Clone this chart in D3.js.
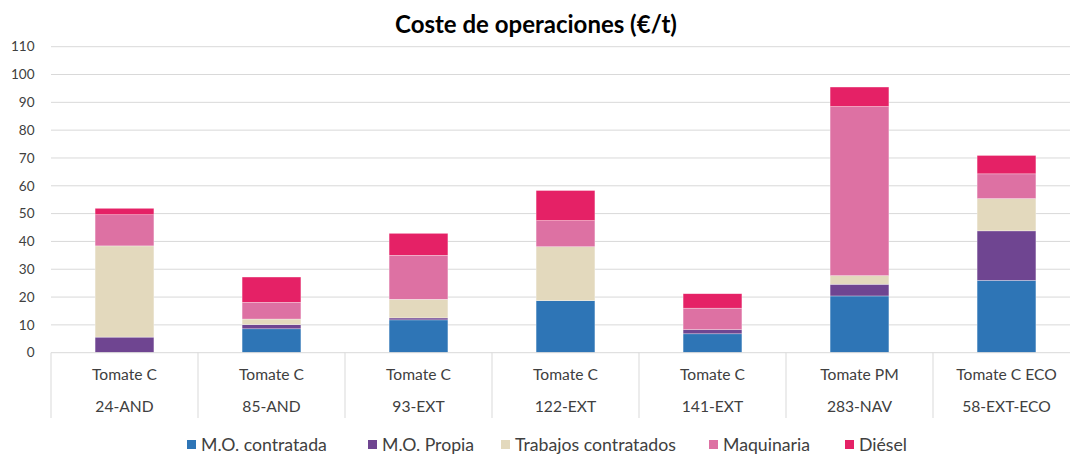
<!DOCTYPE html>
<html><head><meta charset="utf-8">
<script src="https://cdn.jsdelivr.net/npm/d3@7"></script>
<style>body{margin:0;background:#fff;} svg{display:block;font-family:Lato,"Open Sans",sans-serif;}</style>
</head><body>
<svg id="c" width="1070" height="454"></svg>
<script>
const cropLabels = ["Tomate C","Tomate C","Tomate C","Tomate C","Tomate C","Tomate PM","Tomate C ECO"];
const farmLabels = ["24-AND","85-AND","93-EXT","122-EXT","141-EXT","283-NAV","58-EXT-ECO"];
const seriesNames = ["M.O. contratada","M.O. Propia","Trabajos contratados","Maquinaria","Diésel"];
const moContratada = [0, 8.6, 11.8, 18.7, 6.8, 20.4, 26.0];
const moPropia     = [5.6, 1.5, 0.7, 0, 1.5, 4.2, 17.8];
const trabajos     = [32.8, 2.0, 6.7, 19.4, 0, 3.1, 11.6];
const maquinaria   = [11.2, 6.0, 15.8, 9.4, 7.7, 60.8, 8.9];
const diesel       = [2.3, 9.1, 7.9, 10.8, 5.2, 7.0, 6.6];
const yTicks = [0,10,20,30,40,50,60,70,80,90,100,110];
const colors = ["#2E75B6","#6F4591","#E3D9BD","#DD71A3","#E52166"];

const svg = d3.select("#c");

function fitSize(str, target, weight){
  const t = svg.append("text").attr("font-size",20).attr("font-weight",weight||"normal").text(str);
  const w = t.node().getComputedTextLength();
  t.remove();
  return 20*target/w;
}
const fsTitle = fitSize("Coste de operaciones (€/t)", 282, "bold");
const fsCat = fitSize("Tomate C", 65);
const fsTick = fitSize("110", 23.6);
const fsLeg = fitSize("M.O. contratada", 126);

const keys = farmLabels;
const table = keys.map((k,i)=>({key:k, "M.O. contratada":moContratada[i], "M.O. Propia":moPropia[i], "Trabajos contratados":trabajos[i], "Maquinaria":maquinaria[i], "Diésel":diesel[i]}));
const stack = d3.stack().keys(seriesNames)(table);

const x = d3.scaleBand().domain(keys).range([51,1080]).paddingInner(0).paddingOuter(0);
const y = d3.scaleLinear().domain([0,110]).range([352.7,46.7]);

svg.append("g").selectAll("line").data(yTicks.filter(t=>t>0)).join("line")
  .attr("x1",51).attr("x2",1080).attr("y1",d=>y(d)).attr("y2",d=>y(d))
  .attr("stroke","#d9d9d9").attr("stroke-width",1);

svg.append("g").selectAll("text").data(yTicks).join("text")
  .attr("x",34.5).attr("y",d=>y(d)).attr("dy","0.35em").attr("text-anchor","end")
  .attr("font-size",fsTick).attr("fill","#404040").text(d=>d);

const bw = x.bandwidth()*0.4;
svg.append("g").selectAll("g").data(stack).join("g").attr("fill",(d,i)=>colors[i])
  .selectAll("rect").data(d=>d).join("rect")
  .attr("x",d=>x(d.data.key)+(x.bandwidth()-bw)/2).attr("width",bw)
  .attr("y",d=>y(d[1])).attr("height",d=>Math.max(0,y(d[0])-y(d[1])))
  .attr("stroke","#fff").attr("stroke-width",0.6).attr("stroke-opacity",0.5);

svg.append("line").attr("x1",51).attr("x2",1080).attr("y1",y(0)).attr("y2",y(0)).attr("stroke","#d9d9d9");
const seps = keys.map(k=>x(k));
svg.append("g").selectAll("line").data(seps).join("line")
  .attr("x1",d=>d).attr("x2",d=>d).attr("y1",y(0)).attr("y2",418).attr("stroke","#d9d9d9");

svg.append("g").selectAll("text").data(keys).join("text")
  .attr("x",d=>x(d)+x.bandwidth()/2).attr("y",375).attr("dy","0.35em").attr("text-anchor","middle")
  .attr("font-size",fsCat).attr("fill","#404040").text((d,i)=>cropLabels[i]);
svg.append("g").selectAll("text").data(keys).join("text")
  .attr("x",d=>x(d)+x.bandwidth()/2).attr("y",407).attr("dy","0.35em").attr("text-anchor","middle")
  .attr("font-size",fsCat).attr("fill","#404040").text(d=>d);

svg.append("text").attr("x",536).attr("y",25).attr("dy","0.35em").attr("text-anchor","middle")
  .attr("font-size",fsTitle).attr("font-weight","bold").attr("fill","#000").text("Coste de operaciones (€/t)");

// legend (layout positions of swatches)
const legendX = [187, 368, 501, 709, 845];
const lg = svg.append("g");
seriesNames.forEach((n,i)=>{
  lg.append("rect").attr("x",legendX[i]).attr("y",440).attr("width",9).attr("height",9).attr("fill",colors[i]);
  lg.append("text").attr("x",legendX[i]+14).attr("y",445).attr("dy","0.35em").attr("font-size",fsLeg).attr("fill","#404040").text(n);
});
</script>
</body></html>
